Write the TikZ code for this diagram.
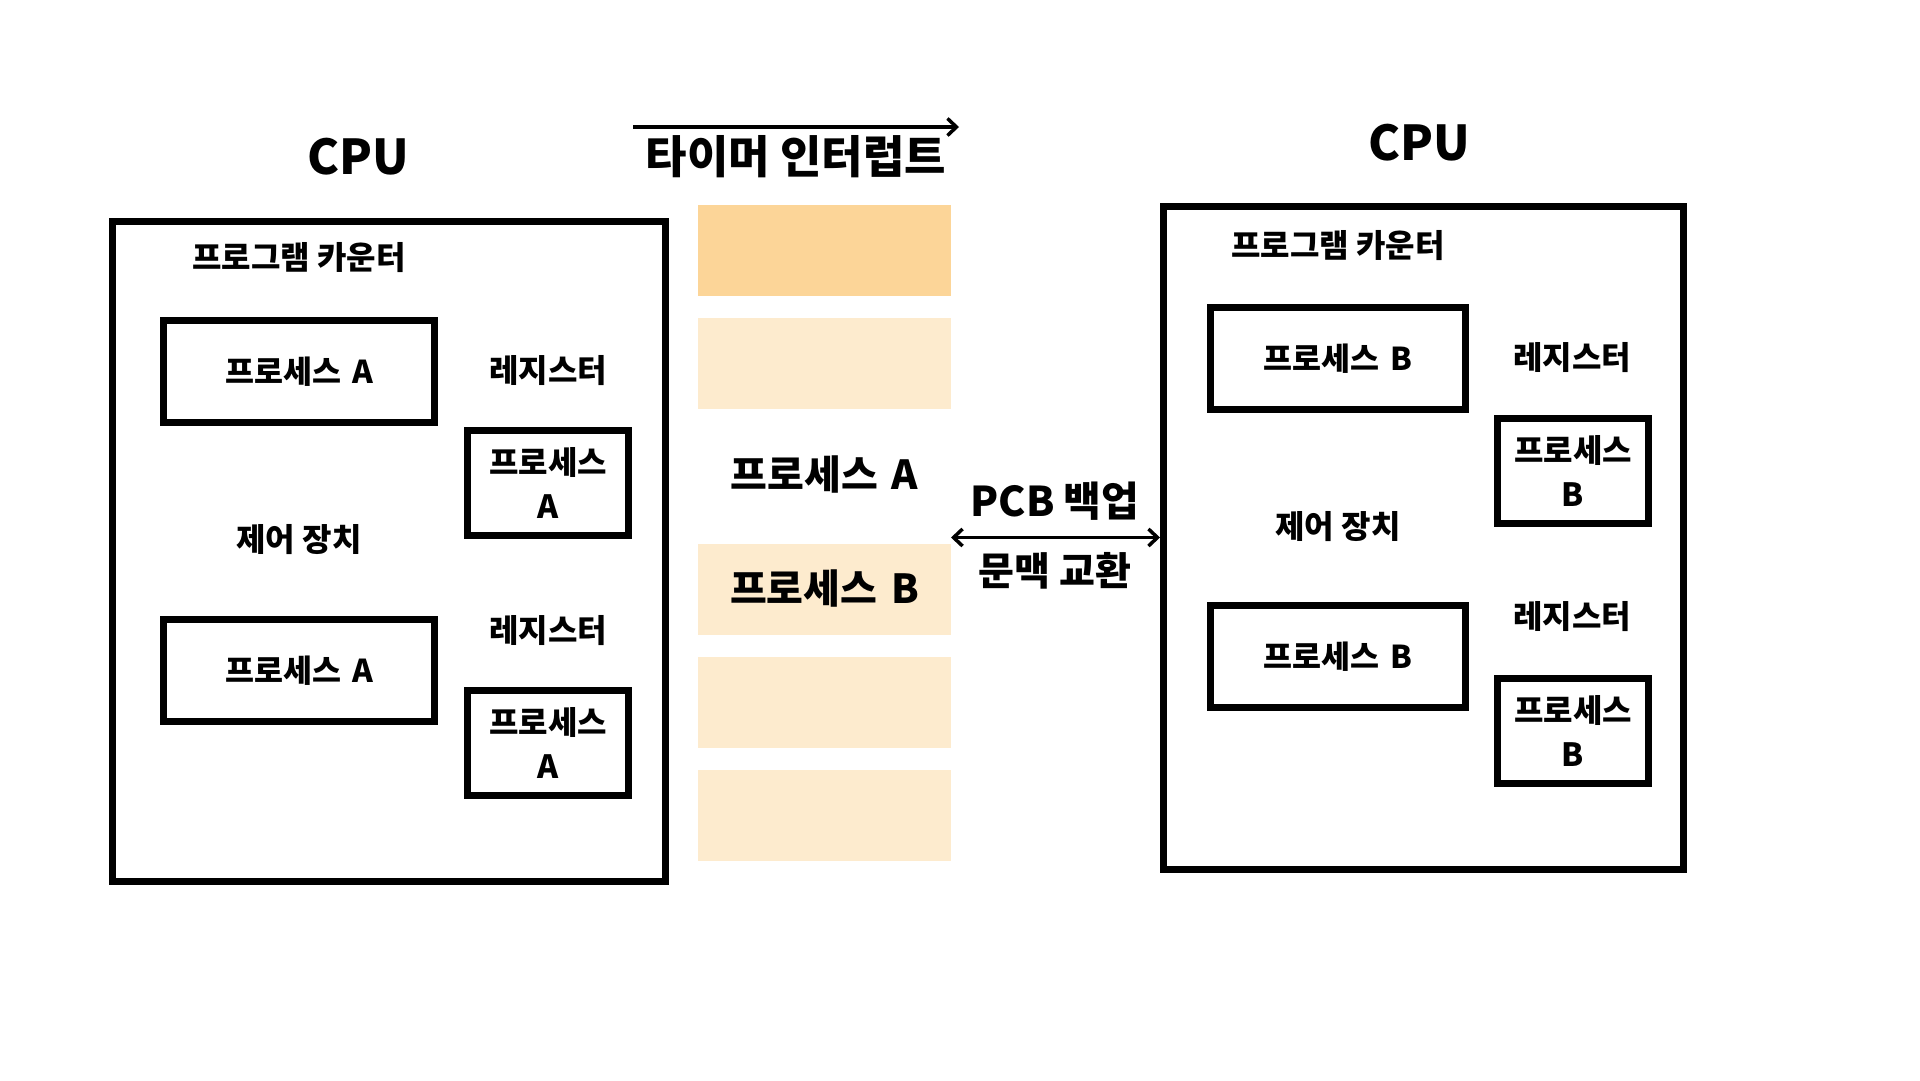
\documentclass[tikz,border=0pt]{standalone}
\usepackage{fontspec}
\setmainfont{Noto Sans CJK KR}
\usepackage{tikz}
\usetikzlibrary{arrows.meta, positioning}
\definecolor{slotdark}{RGB}{252,213,152}
\definecolor{slotlight}{RGB}{253,235,206}
\newcommand{\gap}{\hspace{0.35em}}

\begin{document}
\begin{tikzpicture}[
  x=1pt, y=-1pt,
  cpubox/.style={draw, line width=7pt, inner sep=0pt},
  procbox/.style={draw, line width=7pt, minimum height=102pt, inner sep=0pt, font=\fontsize{31.5}{38}\selectfont\bfseries},
  regbox/.style={draw, line width=7pt, minimum height=105pt, inner sep=0pt, align=center, font=\fontsize{32}{44}\selectfont\bfseries},
  tag/.style={inner sep=0pt, font=\fontsize{32}{38}\selectfont\bfseries},
  cputitle/.style={inner sep=0pt, font=\fontsize{48}{56}\selectfont\bfseries},
  bigtag/.style={inner sep=0pt, font=\fontsize{#1}{48}\selectfont\bfseries},
  slot/.style={minimum width=253pt, minimum height=91pt, inner sep=0pt},
  flow/.style={line width=3.5pt, -{Straight Barb[length=9pt,width=17pt]}},
  swap/.style={line width=3.5pt, {Straight Barb[length=9pt,width=17pt]}-{Straight Barb[length=9pt,width=17pt]}}
]
  \useasboundingbox (0,0) rectangle (1920,1080);

  % CPU running process A
  \node[cputitle] (cpuAtitle) at (358,157) {CPU};
  \node[cpubox, minimum width=553pt, minimum height=660pt] (cpuA) at (389,551) {};
  \node[tag] (pcAlbl) at (299,258) {프로그램 카운터};
  \node[procbox, minimum width=271pt] (pcA) at (299,371.5) {프로세스\gap A};
  \node[tag] (ctrlAlbl) at (299,540) {제어 장치};
  \node[procbox, minimum width=271pt] (ctrlA) at (299,670.5) {프로세스\gap A};
  \node[tag] (regAlbl) at (548,371) {레지스터};
  \node[regbox, minimum width=161pt] (regA) at (548,483) {프로세스\\A};
  \node[tag] (regAlbl2) at (548,631) {레지스터};
  \node[regbox, minimum width=161pt] (regA2) at (548,742.5) {프로세스\\A};

  % time slots
  \foreach \i/\col in {0/slotdark, 1/slotlight, 3/slotlight, 4/slotlight, 5/slotlight}
    \node[slot, fill=\col] (slot\i) at (824.5,250+113*\i) {};
  \node[bigtag=40] (runA) at (824.5,474) {프로세스\gap A};
  \node[bigtag=40] (runB) at (824.5,588) {프로세스\gap B};

  \node[bigtag=45] (timer) at (796,157) {타이머 인터럽트};
  \coordinate (tstart) at (633,127);
  \coordinate (tend) at (959,127);
  \draw[flow] (tstart) -- (tend);

  % CPU running process B
  \node[cputitle] (cpuBtitle) at (1419,143) {CPU};
  \node[cpubox, minimum width=520pt, minimum height=663pt] (cpuB) at (1423.5,538) {};
  \node[tag] (pcBlbl) at (1338,246) {프로그램 카운터};
  \node[procbox, minimum width=255pt] (pcB) at (1338,358.5) {프로세스\gap B};
  \node[tag] (ctrlBlbl) at (1338,527) {제어 장치};
  \node[procbox, minimum width=255pt] (ctrlB) at (1338,656.5) {프로세스\gap B};
  \node[tag] (regBlbl) at (1572,358) {레지스터};
  \node[regbox, minimum width=151pt] (regB) at (1573,471) {프로세스\\B};
  \node[tag] (regBlbl2) at (1572,617) {레지스터};
  \node[regbox, minimum width=151pt] (regB2) at (1573,730.5) {프로세스\\B};

  % context switch
  \coordinate (swstart) at (951,537.5);
  \draw[swap] (swstart) -- (cpuB.west |- swstart);
  \node[bigtag=41] (pcb) at (1055,501) {PCB 백업};
  \node[bigtag=39] (ctx) at (1055,571) {문맥 교환};
\end{tikzpicture}
\end{document}
